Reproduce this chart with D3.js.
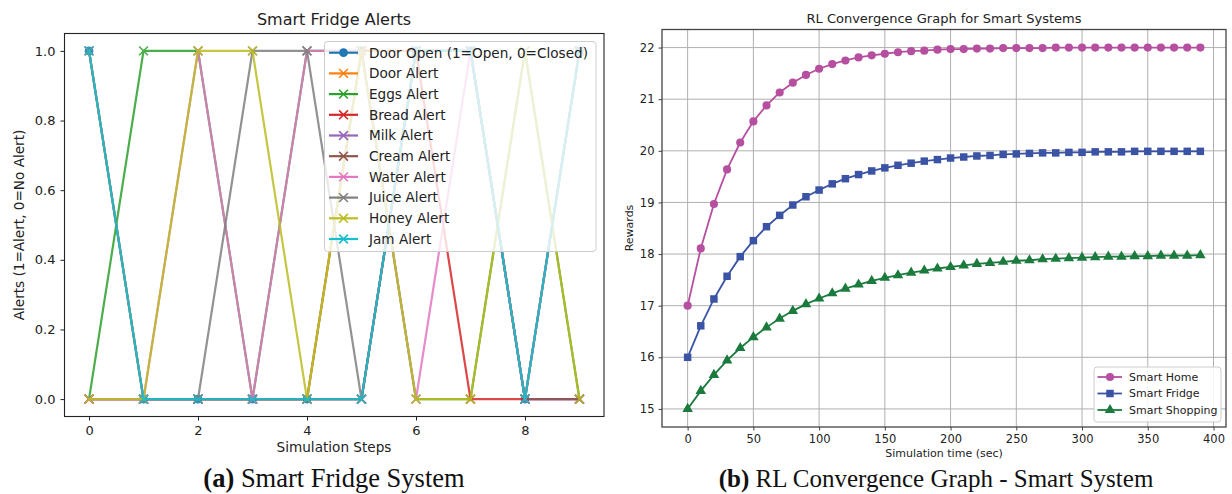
<!DOCTYPE html>
<html><head><meta charset="utf-8">
<script src="https://cdn.jsdelivr.net/npm/d3@7"></script>
<style>body{margin:0;background:#fff}svg{display:block}text{font-family:"DejaVu Sans",sans-serif}</style>
</head><body><svg id="c" width="1232" height="494"></svg>
<script>
// ---------- Left chart data ----------
const steps = [0,1,2,3,4,5,6,7,8,9];
const alertNames = ["Door Open (1=Open, 0=Closed)","Door Alert","Eggs Alert","Bread Alert","Milk Alert","Cream Alert","Water Alert","Juice Alert","Honey Alert","Jam Alert"];
const doorOpen   = [1,0,0,0,0,1,1,1,0,1];
const doorAlert  = [1,0,0,0,0,1,1,1,0,1];
const eggsAlert  = [0,1,1,0,1,1,0,0,1,0];
const breadAlert = [0,0,0,0,0,0,1,0,0,0];
const milkAlert  = [0,0,0,0,0,0,1,1,0,0];
const creamAlert = [0,0,0,0,0,0,1,1,0,0];
const waterAlert = [0,0,1,0,1,1,0,1,0,1];
const juiceAlert = [1,0,0,1,1,0,1,1,0,1];
const honeyAlert = [0,0,1,1,0,1,0,0,1,0];
const jamAlert   = [1,0,0,0,0,0,1,1,0,1];
const alertColors = ["#1f77b4","#ff7f0e","#2ca02c","#d62728","#9467bd","#8c564b","#e377c2","#7f7f7f","#bcbd22","#17becf"];
const alertTicksX = [0,2,4,6,8];
const alertTicksY = [0,0.2,0.4,0.6,0.8,1.0];

// ---------- Right chart data ----------
const simTime = [0,10,20,30,40,50,60,70,80,90,100,110,120,130,140,150,160,170,180,190,200,210,220,230,240,250,260,270,280,290,300,310,320,330,340,350,360,370,380,390];
const smartHome = [17.00,18.11,18.97,19.64,20.16,20.57,20.88,21.13,21.32,21.47,21.59,21.68,21.75,21.81,21.85,21.88,21.91,21.93,21.94,21.96,21.97,21.97,21.98,21.98,21.99,21.99,21.99,21.99,22.00,22.00,22.00,22.00,22.00,22.00,22.00,22.00,22.00,22.00,22.00,22.00];
const smartFridge = [16.00,16.61,17.13,17.57,17.95,18.26,18.53,18.75,18.95,19.11,19.24,19.36,19.46,19.54,19.61,19.67,19.72,19.76,19.80,19.83,19.86,19.88,19.90,19.91,19.93,19.94,19.95,19.96,19.96,19.97,19.97,19.98,19.98,19.98,19.99,19.99,19.99,19.99,19.99,19.99];
const smartShopping = [15.00,15.35,15.66,15.94,16.18,16.39,16.58,16.75,16.90,17.03,17.14,17.24,17.33,17.41,17.48,17.54,17.59,17.64,17.68,17.72,17.75,17.78,17.81,17.83,17.85,17.87,17.88,17.90,17.91,17.92,17.93,17.94,17.95,17.95,17.96,17.96,17.97,17.97,17.97,17.98];
const rlNames = ["Smart Home","Smart Fridge","Smart Shopping"];
const rlColors = ["#b64fa0","#3a53a4","#1b7a3d"];
const rlTicksX = [0,50,100,150,200,250,300,350,400];
const rlTicksY = [15,16,17,18,19,20,21,22];

const svg = d3.select("#c");
svg.append("rect").attr("width",1232).attr("height",494).attr("fill","#fff");

function crossPath(s){return `M${-s},${-s}L${s},${s}M${-s},${s}L${s},${-s}`;}

// ================= LEFT CHART =================
(function(){
  const x = d3.scaleLinear().domain([-0.45,9.45]).range([64.5,604]);
  const y = d3.scaleLinear().domain([-0.05,1.05]).range([416.5,33.5]);
  const g = svg.append("g");
  const series = [doorOpen,doorAlert,eggsAlert,breadAlert,milkAlert,creamAlert,waterAlert,juiceAlert,honeyAlert,jamAlert];
  const line = d3.line().x((d,i)=>x(steps[i])).y(d=>y(d));
  series.forEach((vals,si)=>{
    const sg = g.append("g").attr("opacity",0.85);
    sg.append("path").attr("d",line(vals)).attr("fill","none").attr("stroke",alertColors[si]).attr("stroke-width",2.2);
    vals.forEach((v,i)=>{
      if(si===0){
        sg.append("circle").attr("cx",x(steps[i])).attr("cy",y(v)).attr("r",4.4).attr("fill",alertColors[si]);
      } else {
        sg.append("path").attr("transform",`translate(${x(steps[i])},${y(v)})`).attr("d",crossPath(4.4)).attr("stroke",alertColors[si]).attr("stroke-width",1.6).attr("fill","none");
      }
    });
  });
  const ax = g.append("g").attr("transform","translate(0,416.5)").call(d3.axisBottom(x).tickValues(alertTicksX).tickFormat(d3.format("d")).tickSize(4).tickPadding(5));
  const ay = g.append("g").attr("transform","translate(64.5,0)").call(d3.axisLeft(y).tickValues(alertTicksY).tickFormat(d3.format(".1f")).tickSize(4).tickPadding(5));
  [ax,ay].forEach(a=>{a.select(".domain").remove();a.selectAll("line").attr("stroke","#222").attr("stroke-width",1);a.selectAll("text").attr("fill","#222").style("font-size","13px").style("font-family","DejaVu Sans");});
  g.append("rect").attr("x",64.5).attr("y",33.5).attr("width",604-64.5).attr("height",416.5-33.5).attr("fill","none").attr("stroke","#222").attr("stroke-width",1.1);
  const lg = g.append("g");
  lg.append("rect").attr("x",324.5).attr("y",41.5).attr("width",271.5).attr("height",210).attr("rx",3).attr("fill","#fff").attr("fill-opacity",0.8).attr("stroke","#ccc");
  alertNames.forEach((n,i)=>{
    const yy = 52.7 + i*20.7;
    lg.append("line").attr("x1",329).attr("x2",358).attr("y1",yy).attr("y2",yy).attr("stroke",alertColors[i]).attr("stroke-width",2.2);
    if(i===0) lg.append("circle").attr("cx",343.5).attr("cy",yy).attr("r",4.4).attr("fill",alertColors[i]);
    else lg.append("path").attr("transform",`translate(343.5,${yy})`).attr("d",crossPath(4.4)).attr("stroke",alertColors[i]).attr("stroke-width",1.6);
    lg.append("text").attr("x",369).attr("y",yy).attr("dy","0.36em").attr("fill","#222").style("font-size","13.6px").text(n);
  });
  g.append("text").attr("x",334).attr("y",25).attr("text-anchor","middle").attr("fill","#222").style("font-size","16px").text("Smart Fridge Alerts");
  g.append("text").attr("x",334).attr("y",452).attr("text-anchor","middle").attr("fill","#222").style("font-size","13.6px").text("Simulation Steps");
  g.append("text").attr("transform","translate(24,225) rotate(-90)").attr("text-anchor","middle").attr("fill","#222").style("font-size","13.6px").text("Alerts (1=Alert, 0=No Alert)");
})();

// ================= RIGHT CHART =================
(function(){
  const x = d3.scaleLinear().domain([-19.5,409.5]).range([662,1226]);
  const y = d3.scaleLinear().domain([14.65,22.35]).range([427,29.5]);
  const g = svg.append("g");
  rlTicksX.forEach(t=>g.append("line").attr("x1",x(t)).attr("x2",x(t)).attr("y1",29.5).attr("y2",427).attr("stroke","#b0b0b0").attr("stroke-width",1));
  rlTicksY.forEach(t=>g.append("line").attr("x1",662).attr("x2",1226).attr("y1",y(t)).attr("y2",y(t)).attr("stroke","#b0b0b0").attr("stroke-width",1));
  const series = [smartHome,smartFridge,smartShopping];
  const line = d3.line().x((d,i)=>x(simTime[i])).y(d=>y(d));
  const sym = [d3.symbolCircle,d3.symbolSquare,d3.symbolTriangle];
  const symSize = [52,56,48];
  series.forEach((vals,si)=>{
    g.append("path").attr("d",line(vals)).attr("fill","none").attr("stroke",rlColors[si]).attr("stroke-width",1.8);
    vals.forEach((v,i)=>{
      g.append("path").attr("transform",`translate(${x(simTime[i])},${y(v)})`).attr("d",d3.symbol().type(sym[si]).size(symSize[si])()).attr("fill",rlColors[si]);
    });
  });
  const ax = g.append("g").attr("transform","translate(0,427)").call(d3.axisBottom(x).tickValues(rlTicksX).tickFormat(d3.format("d")).tickSize(3.5).tickPadding(4));
  const ay = g.append("g").attr("transform","translate(662,0)").call(d3.axisLeft(y).tickValues(rlTicksY).tickFormat(d3.format("d")).tickSize(3.5).tickPadding(4));
  [ax,ay].forEach(a=>{a.select(".domain").remove();a.selectAll("line").attr("stroke","#444");a.selectAll("text").attr("fill","#222").style("font-size","11.5px").style("font-family","DejaVu Sans");});
  g.append("rect").attr("x",662).attr("y",29.5).attr("width",1226-662).attr("height",427-29.5).attr("fill","none").attr("stroke","#444").attr("stroke-width",1.3);
  const lg = g.append("g");
  lg.append("rect").attr("x",1094).attr("y",367).attr("width",127).attr("height",55).attr("rx",3).attr("fill","#fff").attr("fill-opacity",0.85).attr("stroke","#ccc");
  rlNames.forEach((n,i)=>{
    const yy = 377 + i*16.5;
    lg.append("line").attr("x1",1097.5).attr("x2",1122).attr("y1",yy).attr("y2",yy).attr("stroke",rlColors[i]).attr("stroke-width",1.8);
    lg.append("path").attr("transform",`translate(1110,${yy})`).attr("d",d3.symbol().type(sym[i]).size(symSize[i])()).attr("fill",rlColors[i]);
    lg.append("text").attr("x",1129).attr("y",yy).attr("dy","0.36em").attr("fill","#222").style("font-size","11px").text(n);
  });
  g.append("text").attr("x",944).attr("y",23).attr("text-anchor","middle").attr("fill","#222").style("font-size","13px").text("RL Convergence Graph for Smart Systems");
  g.append("text").attr("x",944).attr("y",457).attr("text-anchor","middle").attr("fill","#222").style("font-size","11px").text("Simulation time (sec)");
  g.append("text").attr("transform","translate(633,228) rotate(-90)").attr("text-anchor","middle").attr("fill","#222").style("font-size","11px").text("Rewards");
})();

// ================= CAPTIONS =================
function caption(cx, size, label, rest){
  const t = svg.append("text").attr("x",cx).attr("y",487).attr("text-anchor","middle").attr("fill","#111").style("font-family","'Liberation Serif',serif").style("font-size",size+"px");
  t.append("tspan").attr("font-weight","bold").text(label);
  t.append("tspan").text(" " + rest);
}
caption(334,26.5,"(a)","Smart Fridge System");
caption(936,25,"(b)","RL Convergence Graph - Smart System");
</script>
</body></html>
